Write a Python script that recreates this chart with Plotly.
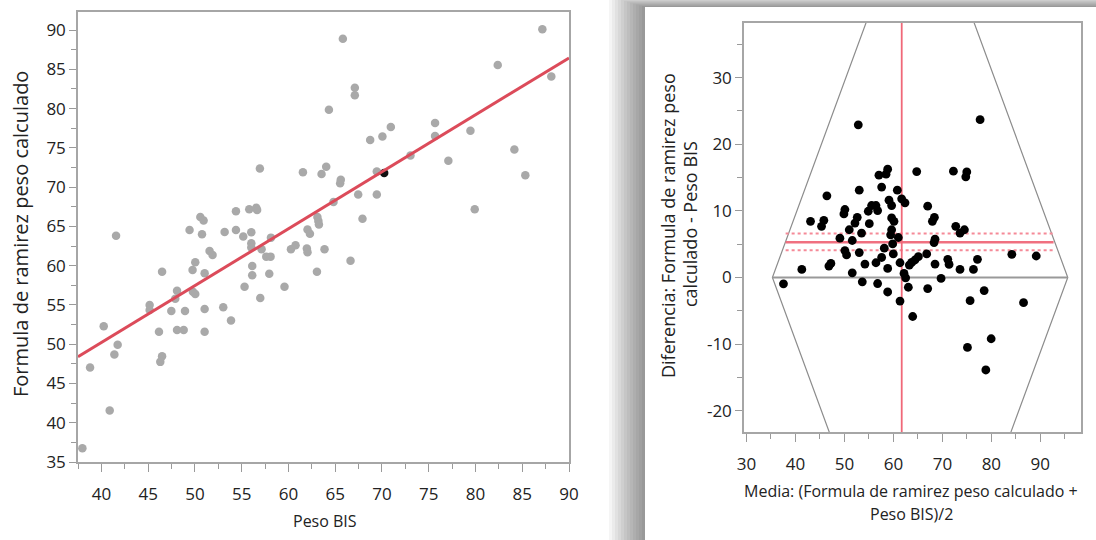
import plotly.graph_objects as go

# ---------------- data: left scatter (Peso BIS vs Formula) ----------------
peso_bis = [37.97, 38.79, 40.25, 40.89, 41.39, 41.74, 41.57, 45.16, 45.16, 46.16,
            46.49, 46.30, 46.49, 47.48, 47.90, 48.09, 48.94, 48.09, 48.80, 49.43,
            49.75, 50.04, 49.79, 50.04, 50.58, 50.93, 50.76, 51.04, 51.57, 51.89,
            51.04, 51.04, 53.03, 53.86, 53.18, 54.39, 54.39, 55.17, 55.31, 55.81,
            56.56, 56.65, 56.03, 56.03, 56.03, 56.13, 56.13, 56.95, 56.99, 57.13,
            57.63, 58.09, 58.13, 57.95, 59.58, 60.27, 60.76, 61.97, 62.04, 61.55,
            62.04, 62.30, 63.05, 63.10, 63.20, 63.26, 63.54, 63.86, 64.04, 64.33,
            64.82, 65.53, 65.60, 65.82, 66.64, 67.10, 67.10, 67.46, 67.92, 68.74,
            69.45, 69.45, 70.05, 70.95, 73.05, 75.68, 75.68, 77.10, 79.46, 79.92,
            82.38, 84.16, 85.33, 87.15, 88.11]
formula = [36.75, 47.04, 52.30, 41.56, 48.70, 49.92, 63.80, 55.00, 54.35, 51.58,
           48.48, 47.75, 59.23, 54.22, 55.80, 56.80, 54.22, 51.80, 51.80, 64.55,
           59.45, 60.43, 56.68, 56.39, 66.20, 65.74, 64.00, 59.03, 61.87, 61.37,
           54.48, 51.58, 54.70, 53.03, 64.30, 64.55, 66.94, 63.70, 57.32, 67.19,
           67.36, 67.10, 64.26, 62.86, 62.30, 59.96, 58.78, 72.37, 55.88, 62.10,
           61.15, 61.15, 63.57, 58.98, 57.32, 62.10, 62.60, 62.20, 61.70, 71.90,
           64.60, 64.05, 59.23, 66.20, 65.70, 65.25, 71.66, 62.10, 72.60, 79.86,
           68.10, 70.50, 70.95, 88.90, 60.64, 82.65, 81.70, 69.05, 65.96, 76.00,
           69.05, 72.00, 76.45, 77.65, 74.03, 78.16, 76.50, 73.36, 77.18, 67.19,
           85.56, 74.80, 71.50, 90.10, 84.10]
selected_peso = [70.24]
selected_formula = [71.80]
fit_x = [37.5, 90.0]
fit_y = [48.4, 86.45]

# ---------------- data: Bland-Altman (mean vs difference) ----------------
ba_mean = [52.83, 77.70, 57.05, 58.50, 58.83, 64.76, 72.25, 74.98, 74.78, 46.42,
           53.03, 57.60, 60.80, 61.69, 62.37, 59.10, 59.64, 55.55, 56.44, 56.78,
           54.87, 50.10, 49.90, 52.62, 52.15, 67.00, 68.37, 67.96, 43.08, 45.80,
           45.33, 55.08, 50.99, 53.50, 59.64, 60.12, 59.64, 59.44, 61.00, 72.73,
           73.60, 74.50, 68.50, 68.30, 49.08, 51.60, 50.10, 50.44, 53.03, 58.14,
           59.85, 59.98, 57.60, 66.80, 65.10, 64.40, 63.73, 63.25, 61.35, 62.17,
           41.30, 47.24, 46.83, 54.19, 56.44, 58.83, 51.60, 68.50, 71.10, 71.37,
           73.60, 76.34, 77.16, 84.18, 89.16, 37.56, 62.50, 53.65, 56.78, 58.83,
           63.05, 61.35, 63.94, 67.00, 69.73, 75.66, 78.53, 86.57, 75.12, 79.96,
           78.87]
ba_diff = [22.92, 23.68, 15.35, 15.50, 16.25, 15.90, 15.95, 15.85, 15.10, 12.26,
           13.10, 13.57, 13.10, 11.81, 11.20, 11.60, 10.80, 10.80, 10.80, 10.04,
           9.94, 10.20, 9.54, 9.03, 8.17, 10.70, 9.03, 8.43, 8.43, 8.58,
           7.67, 8.07, 7.16, 6.66, 8.93, 8.43, 7.16, 6.40, 6.00, 7.67,
           6.66, 7.16, 5.75, 5.24, 5.90, 5.55, 4.03, 3.38, 3.73, 4.39,
           5.04, 3.53, 3.00, 3.53, 3.12, 2.62, 2.26, 1.86, 2.21, 0.60,
           1.20, 2.11, 1.71, 2.01, 2.21, 1.35, 0.70, 2.01, 2.72, 1.96,
           1.20, 1.20, 2.72, 3.48, 3.22, -0.96, -0.05, -0.66, -0.91, -2.18,
           -1.47, -3.54, -5.86, -1.67, -0.15, -3.49, -1.97, -3.79, -10.51, -9.20,
           -13.89]
mean_diff = 5.3
diff_ci = [4.1, 6.6]
mean_line_span = [38.0, 92.7]
grand_mean = 61.7
bound_lo = 35.3
bound_hi = 95.6
diff_tickvals = [-20, -10, 0, 10, 20, 30]
diff_ticktext = ["-20", "-10", "0", "10", "20", "30"]

W, H = 1096, 540
FONT = "Open Sans"
TXT = "#222222"
AX = "#a6a6a6"


def fx(p):
    return p / W


def fy(p):
    return 1 - p / H


fig = go.Figure()

# left panel
fig.add_trace(go.Scatter(x=peso_bis, y=formula, mode="markers",
                         marker=dict(color="#a9a9a9", size=8.5),
                         xaxis="x", yaxis="y", showlegend=False))
fig.add_trace(go.Scatter(x=selected_peso, y=selected_formula, mode="markers",
                         marker=dict(color="#111111", size=8.5),
                         xaxis="x", yaxis="y", showlegend=False))
fig.add_trace(go.Scatter(x=fit_x, y=fit_y, mode="lines",
                         line=dict(color="#dc4b5a", width=3),
                         xaxis="x", yaxis="y", showlegend=False))

# right panel: hexagon guide lines (Peso = const, Formula = const)
ext = 60
fig.add_trace(go.Scatter(x=[bound_lo + ext / 2, bound_lo, bound_lo + ext / 2],
                         y=[ext, 0, -ext], mode="lines",
                         line=dict(color="#8c8c8c", width=1.2),
                         xaxis="x2", yaxis="y2", showlegend=False))
fig.add_trace(go.Scatter(x=[bound_hi - ext / 2, bound_hi, bound_hi - ext / 2],
                         y=[ext, 0, -ext], mode="lines",
                         line=dict(color="#8c8c8c", width=1.2),
                         xaxis="x2", yaxis="y2", showlegend=False))
fig.add_trace(go.Scatter(x=[bound_lo, bound_hi], y=[0, 0], mode="lines",
                         line=dict(color="#999999", width=2),
                         xaxis="x2", yaxis="y2", showlegend=False))
# mean difference and its CI
fig.add_trace(go.Scatter(x=mean_line_span, y=[mean_diff, mean_diff], mode="lines",
                         line=dict(color="#f07080", width=2.5),
                         xaxis="x2", yaxis="y2", showlegend=False))
for v in diff_ci:
    fig.add_trace(go.Scatter(x=mean_line_span, y=[v, v], mode="lines",
                             line=dict(color="#f58a98", width=2, dash="dot"),
                             xaxis="x2", yaxis="y2", showlegend=False))
fig.add_trace(go.Scatter(x=[grand_mean, grand_mean], y=[-100, 100], mode="lines",
                         line=dict(color="#f06878", width=1.8),
                         xaxis="x2", yaxis="y2", showlegend=False))
fig.add_trace(go.Scatter(x=ba_mean, y=ba_diff, mode="markers",
                         marker=dict(color="#000000", size=8.8),
                         xaxis="x2", yaxis="y2", showlegend=False))

tickfont = dict(family=FONT, size=17, color=TXT)


def axis(domain, rng, tick0, dtick, mdtick, anchor, ticklen=8, standoff=None):
    d = dict(domain=domain, range=rng, tickmode="linear", tick0=tick0, dtick=dtick,
             ticks="outside", ticklen=ticklen, tickwidth=1, tickcolor="#9a9a9a",
             showline=True, mirror=True, linecolor=AX, linewidth=1.5,
             showgrid=False, zeroline=False, anchor=anchor, automargin=False,
             tickfont=tickfont, fixedrange=True,
             minor=dict(ticks="outside", ticklen=5, tickwidth=1, tickcolor="#9a9a9a",
                        tick0=tick0, dtick=mdtick, showgrid=False))
    if standoff is not None:
        d["ticklabelstandoff"] = standoff
    return d


yaxis2 = axis([fy(432), fy(23)], [-23.2, 38.2], 0, 10, 5, "x2", ticklen=7)
yaxis2.update(tickmode="array", tickvals=diff_tickvals, ticktext=diff_ticktext)

shapes = []
# panel drop shadow
for i in range(1, 13):
    shapes.append(dict(type="rect", xref="paper", yref="paper", layer="below",
                       x0=fx(645 - 3 * i), x1=fx(1096), y0=fy(540), y1=fy(7 - 0.9 * i),
                       fillcolor="rgba(0,0,0,0.038)", line=dict(width=0)))
shapes.append(dict(type="rect", xref="paper", yref="paper", layer="below",
                   x0=fx(645), x1=fx(1096), y0=fy(540), y1=fy(7),
                   fillcolor="white", line=dict(width=0)))

annotations = [
    dict(text="Formula de ramirez peso calculado", x=fx(20), y=fy(234),
         textangle=-90, font=dict(family=FONT, size=20, color=TXT)),
    dict(text="Peso BIS", x=fx(325), y=fy(521),
         font=dict(family=FONT, size=16, color=TXT)),
    dict(text="Diferencia: Formula de ramirez peso", x=fx(668), y=fy(226),
         textangle=-90, font=dict(family=FONT, size=18, color=TXT)),
    dict(text="calculado - Peso BIS", x=fx(690), y=fy(224),
         textangle=-90, font=dict(family=FONT, size=18, color=TXT)),
    dict(text="Media: (Formula de ramirez peso calculado +", x=fx(911), y=fy(491),
         font=dict(family=FONT, size=16, color=TXT)),
    dict(text="Peso BIS)/2", x=fx(911), y=fy(514),
         font=dict(family=FONT, size=16, color=TXT)),
]
for a in annotations:
    a.update(xref="paper", yref="paper", showarrow=False,
             xanchor="center", yanchor="middle")

fig.update_layout(
    width=W, height=H, margin=dict(l=0, r=0, t=0, b=0),
    paper_bgcolor="white", plot_bgcolor="rgba(0,0,0,0)",
    showlegend=False,
    xaxis=axis([fx(78), fx(569)], [37.5, 90], 40, 5, 2.5, "y", standoff=8),
    yaxis=axis([fy(462), fy(12)], [35, 92.3], 35, 5, 2.5, "x", ticklen=7),
    xaxis2=axis([fx(744), fx(1081)], [29.5, 98.3], 30, 10, 5, "y2", standoff=8),
    yaxis2=yaxis2,
    shapes=shapes,
    annotations=annotations,
)

fig.write_html("out.html", config={"displayModeBar": False},
               post_script="document.body.style.margin='0px';")
